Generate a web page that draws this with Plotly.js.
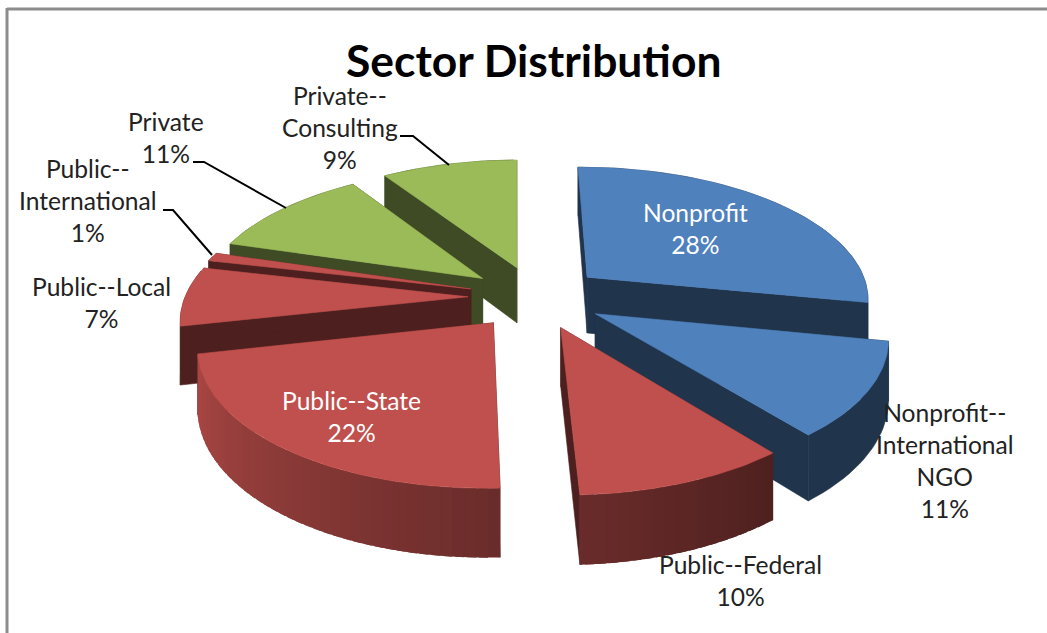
<!DOCTYPE html>
<html>
<head>
<meta charset="utf-8">
<script src="https://cdn.plot.ly/plotly-3.0.1.min.js"></script>
<style>html,body{margin:0;padding:0;background:#fff}#chart{width:1047px;height:633px}</style>
</head>
<body>
<div id="chart"></div>
<script>
// ---- chart content ----
const categories = ["Nonprofit","Nonprofit--International NGO","Public--Federal","Public--State","Public--Local","Public--International","Private","Private--Consulting"];
const values = [28,11,10,22,7,1,11,9];
const baseColors = [[79,129,189],[79,129,189],[192,80,77],[192,80,77],[192,80,77],[192,80,77],[155,187,89],[155,187,89]];
const labelLines = [["Nonprofit"],["Nonprofit--","International","NGO"],["Public--Federal"],["Public--State"],["Public--Local"],["Public--","International"],["Private"],["Private--","Consulting"]];
const labelX = [695,945,740,351,101,88,166,340];
const labelY = [228,460,580,416,302,200,137,127];
const labelColor = ["#fff","#222","#222","#fff","#222","#222","#222","#222"];
const leaderX = [[193,204,286],[400,413,449],[163,173,212]];
const leaderY = [[162,162,208],[136,136,165],[210,210,255]];
const titleText = "Sector Distribution";
const drawOrder = [7,6,0,5,4,3,1,2];
const gradedWall = [false,false,true,true,false,false,false,false];

// ---- projection settings ----
const CX=536, CY=297, A=283, B=132, P=0.15, H=57, EXPLODE=0.24, ROT=-0.6;
const total = values.reduce((a,b)=>a+b,0);
const rad = d=>d*Math.PI/180;
function project(X,Y,Z){const s=1/(1-P*Y);return [CX+A*X*s, CY+B*Y*s-H*Z*s];}
function rim(th,off,z){return project(Math.sin(rad(th))+off[0],-Math.cos(rad(th))+off[1],z);}
const rgb=(c,f)=>`rgb(${Math.round(c[0]*f)},${Math.round(c[1]*f)},${Math.round(c[2]*f)})`;
function wallFactor(th){ // lighter to the lower left, flat dark to the right
  if(th<=140) return 0.40;
  if(th<=178) return 0.40+(th-140)/38*0.15;
  return Math.min(0.88,0.55+(th-178)/72*0.31);
}
const traces=[];
function poly(pts,color,name,hover,noLine){
  traces.push({type:"scatter",mode:"lines",x:pts.map(p=>p[0]),y:pts.map(p=>p[1]),fill:"toself",fillcolor:color,
    line:{color:color,width:noLine?0:0.6},name:name,showlegend:false,hoverinfo:hover?"text":"skip",text:hover?name:undefined});
}
let acc=0; const slices=values.map((v,i)=>{const a0=acc/total*360+ROT; acc+=v; const a1=acc/total*360+ROT; return {i,a0,a1};});
drawOrder.forEach(i=>{
  const {a0,a1}=slices[i]; const mid=(a0+a1)/2;
  const off=[EXPLODE*Math.sin(rad(mid)),-EXPLODE*Math.cos(rad(mid))];
  const c=baseColors[i];
  const apexTop=project(off[0],off[1],0), apexBot=project(off[0],off[1],-1);
  const dark=rgb(c,0.40);
  // radial cut walls
  poly([apexTop,apexBot,rim(a0,off,-1),rim(a0,off,0),apexTop],dark,categories[i]);
  poly([apexTop,apexBot,rim(a1,off,-1),rim(a1,off,0),apexTop],dark,categories[i]);
  // outer wall
  const step=2;
  if(gradedWall[i]){
    for(let t=a0;t<a1;t+=step){
      const m=Math.min(t+step,a1), u=Math.min(t+step+1.5,a1); // overlap the next band so no seam shows
      const up=[],dn=[];
      for(let q=t;q<u;q+=0.5){up.push(rim(q,off,0));dn.unshift(rim(q,off,-1));}
      up.push(rim(u,off,0));dn.unshift(rim(u,off,-1));
      poly(up.concat(dn,[up[0]]),rgb(c,wallFactor((t+m)/2)),categories[i],false,true);
    }
  } else {
    const up=[],dn=[];for(let t=a0;t<=a1+1e-6;t+=step){up.push(rim(t,off,0));dn.unshift(rim(t,off,-1));}
    poly(up.concat(dn,[up[0]]),dark,categories[i]);
  }
  // top face
  const top=[apexTop];for(let t=a0;t<a1;t+=1)top.push(rim(t,off,0));top.push(rim(a1,off,0));top.push(apexTop);
  poly(top,rgb(c,1),categories[i]+": "+values[i]+"%",true);
});
leaderX.forEach((xs,k)=>traces.push({type:"scatter",mode:"lines",x:xs,y:leaderY[k],line:{color:"#000",width:2},showlegend:false,hoverinfo:"skip"}));

const FONT="Lato, Carlito, Calibri, sans-serif";
const annotations=categories.map((n,i)=>({x:labelX[i],y:labelY[i],xref:"x",yref:"y",showarrow:false,align:"center",
  text:labelLines[i].concat([values[i]+"%"]).join("<br>"),font:{family:FONT,size:24.6,color:labelColor[i]}}));
annotations.push({x:533,y:59,xref:"x",yref:"y",showarrow:false,text:"<b>"+titleText+"</b>",font:{family:FONT,size:44.4,color:"#000"}});
const layout={width:1047,height:633,margin:{l:0,r:0,t:0,b:0},paper_bgcolor:"#fff",plot_bgcolor:"#fff",showlegend:false,
  xaxis:{range:[0,1047],visible:false,fixedrange:true},yaxis:{range:[633,0],visible:false,fixedrange:true},
  annotations,
  shapes:[{type:"line",xref:"x",yref:"y",x0:7,y0:9,x1:1047,y1:9,line:{color:"#8c8c8c",width:3}},
          {type:"line",xref:"x",yref:"y",x0:7,y0:8,x1:7,y1:633,line:{color:"#8c8c8c",width:3}}]};
Plotly.newPlot("chart",traces,layout,{displayModeBar:false});
</script>
</body>
</html>
